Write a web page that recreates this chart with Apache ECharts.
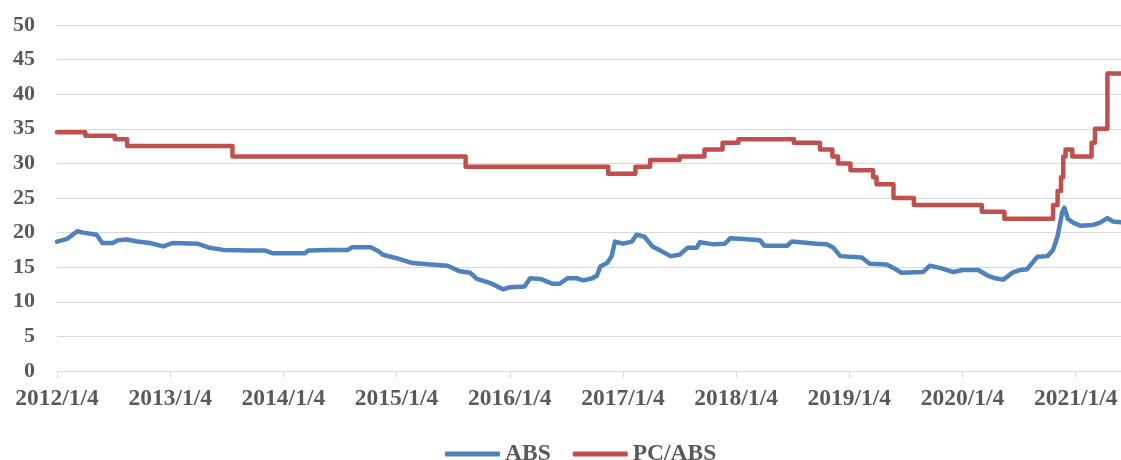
<!DOCTYPE html>
<html>
<head>
<meta charset="utf-8">
<script src="https://cdn.jsdelivr.net/npm/echarts@6/dist/echarts.min.js"></script>
<style>
html,body{margin:0;padding:0;background:#fff;}
#chart{width:1121px;height:460px;}
</style>
</head>
<body>
<div id="chart"></div>
<script>
// Time expressed in years since 2012/1/4 (2012.00 = 2012/1/4)
const seriesNames = ['ABS', 'PC/ABS'];

const absTime = [2012.00, 2012.09, 2012.13, 2012.18, 2012.23, 2012.35, 2012.40, 2012.49, 2012.54, 2012.62,
  2012.71, 2012.82, 2012.94, 2013.02, 2013.24, 2013.35, 2013.47, 2013.70, 2013.84, 2013.91,
  2014.19, 2014.22, 2014.41, 2014.57, 2014.61, 2014.77, 2014.84, 2014.88, 2015.00, 2015.14,
  2015.30, 2015.45, 2015.56, 2015.65, 2015.71, 2015.83, 2015.94, 2016.00, 2016.13, 2016.18,
  2016.27, 2016.38, 2016.44, 2016.51, 2016.59, 2016.65, 2016.73, 2016.77, 2016.80, 2016.86,
  2016.90, 2016.93, 2017.00, 2017.08, 2017.12, 2017.19, 2017.26, 2017.33, 2017.42, 2017.50,
  2017.57, 2017.65, 2017.68, 2017.80, 2017.90, 2017.95, 2018.03, 2018.21, 2018.25, 2018.45,
  2018.49, 2018.71, 2018.80, 2018.86, 2018.92, 2019.11, 2019.18, 2019.33, 2019.39, 2019.46,
  2019.65, 2019.71, 2019.80, 2019.92, 2020.00, 2020.14, 2020.22, 2020.29, 2020.36, 2020.44,
  2020.51, 2020.57, 2020.66, 2020.75, 2020.80, 2020.84, 2020.88, 2020.90, 2020.93, 2020.98,
  2021.04, 2021.15, 2021.21, 2021.28, 2021.33, 2021.40];
const absValues = [18.7, 19.1, 19.6, 20.2, 20.0, 19.7, 18.5, 18.5, 18.9, 19.0,
  18.7, 18.5, 18.0, 18.5, 18.4, 17.8, 17.5, 17.4, 17.4, 17.0,
  17.0, 17.4, 17.5, 17.5, 17.9, 17.9, 17.3, 16.8, 16.3, 15.6,
  15.4, 15.2, 14.4, 14.2, 13.3, 12.7, 11.8, 12.1, 12.2, 13.4,
  13.3, 12.6, 12.6, 13.4, 13.4, 13.1, 13.4, 13.8, 15.1, 15.6,
  16.6, 18.7, 18.4, 18.7, 19.7, 19.4, 18.0, 17.4, 16.6, 16.8,
  17.8, 17.8, 18.6, 18.3, 18.4, 19.2, 19.1, 18.9, 18.1, 18.1,
  18.7, 18.4, 18.3, 17.8, 16.6, 16.4, 15.5, 15.4, 14.9, 14.2,
  14.3, 15.2, 14.9, 14.3, 14.6, 14.6, 13.8, 13.4, 13.2, 14.2,
  14.6, 14.7, 16.5, 16.6, 17.5, 19.5, 22.9, 23.6, 22.0, 21.4,
  21.0, 21.1, 21.4, 22.1, 21.6, 21.5];

const pcTime = [2012.00, 2012.25, 2012.51, 2012.62, 2013.55, 2015.61, 2016.87, 2017.11, 2017.24, 2017.50,
  2017.72, 2017.88, 2018.02, 2018.51, 2018.74, 2018.85, 2018.90, 2019.01, 2019.21, 2019.24,
  2019.39, 2019.57, 2020.17, 2020.37, 2020.80, 2020.84, 2020.87, 2020.89, 2020.91, 2020.97,
  2021.14, 2021.17, 2021.28, 2021.40];
const pcValues = [34.5, 34, 33.5, 32.5, 31, 29.5, 28.5, 29.5, 30.5, 31,
  32, 33, 33.5, 33, 32, 31, 30, 29, 28, 27,
  25, 24, 23, 22, 24, 26, 28, 31, 32, 31,
  33, 35, 43, 43];

const yTicks = [0, 5, 10, 15, 20, 25, 30, 35, 40, 45, 50];
const xTickYears = [2012, 2013, 2014, 2015, 2016, 2017, 2018, 2019, 2020, 2021];

const absData = absTime.map((t, i) => [t, absValues[i]]);
const pcData = pcTime.map((t, i) => [t, pcValues[i]]);

const font = 'Liberation Serif, Times New Roman, serif';
const chart = echarts.init(document.getElementById('chart'), null, {renderer: 'canvas'});
chart.setOption({
  animation: false,
  backgroundColor: '#ffffff',
  grid: {left: 57, right: 0, top: 25, bottom: 89, containLabel: false},
  legend: {
    data: seriesNames,
    left: 440,
    top: 437,
    icon: 'roundRect',
    itemWidth: 55,
    itemHeight: 5,
    itemGap: 22,
    textStyle: {fontFamily: font, fontWeight: 'bold', fontSize: 23.5, color: '#595959'}
  },
  xAxis: {
    type: 'value',
    min: xTickYears[0],
    max: 2021.40,
    interval: 1,
    axisLine: {show: true, lineStyle: {color: '#d9d9d9', width: 1}},
    axisTick: {show: true, length: 7, lineStyle: {color: '#d9d9d9'}},
    splitLine: {show: false},
    axisLabel: {
      showMaxLabel: false,
      margin: 16,
      fontFamily: font, fontWeight: 'bold', fontSize: 23.5, color: '#595959',
      formatter: v => Math.round(v) + '/1/4'
    }
  },
  yAxis: {
    type: 'value',
    min: yTicks[0],
    max: yTicks[yTicks.length - 1],
    interval: 5,
    axisLine: {show: false},
    axisTick: {show: false},
    splitLine: {lineStyle: {color: '#d9d9d9', width: 1}},
    axisLabel: {margin: 22, fontFamily: font, fontWeight: 'bold', fontSize: 22, color: '#595959'}
  },
  series: [
    {
      name: seriesNames[0], type: 'line', data: absData, showSymbol: false, symbol: 'none',
      lineStyle: {color: '#4f81bd', width: 4.5, cap: 'round', join: 'round'},
      itemStyle: {color: '#4f81bd'}
    },
    {
      name: seriesNames[1], type: 'line', step: 'end', data: pcData, showSymbol: false, symbol: 'none',
      lineStyle: {color: '#c0504d', width: 4.5, cap: 'round', join: 'round'},
      itemStyle: {color: '#c0504d'}
    }
  ]
});
</script>
</body>
</html>
